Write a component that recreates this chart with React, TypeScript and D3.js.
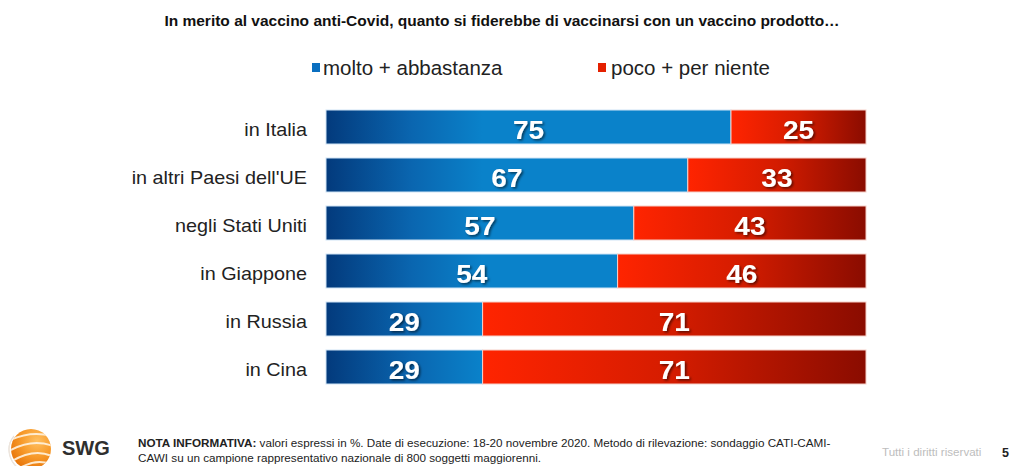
import React from "react";
import * as d3 from "d3";

const categories = ["in Italia", "in altri Paesi dell'UE", "negli Stati Uniti", "in Giappone", "in Russia", "in Cina"];
const positive = [75, 67, 57, 54, 29, 29];
const negative = [25, 33, 43, 46, 71, 71];
const seriesNames = ["molto + abbastanza", "poco + per niente"];
const titleText = "In merito al vaccino anti-Covid, quanto si fiderebbe di vaccinarsi con un vaccino prodotto…";

const W = 1024;
const H = 474;
const FONT = "'Liberation Sans', Arial, Helvetica, sans-serif";
const SX = 1.1;

export default function App() {
  const x = d3.scaleLinear().domain([0, 100]).range([326, 866]);
  const y = d3
    .scaleBand<string>()
    .domain(categories)
    .range([103, 391])
    .paddingInner(14 / 48)
    .paddingOuter(7 / 48);
  const bw = y.bandwidth();

  const valueLabel = (cx: number, cy: number, v: number) => (
    <text
      transform={`translate(${cx},${cy + 11.5}) scale(${SX},1)`}
      textAnchor="middle"
      fontSize={25.5}
      fontWeight="bold"
      fill="#fff"
      filter="url(#shadow)"
    >
      {v}
    </text>
  );

  return (
    <div style={{ margin: -8, width: W, height: H, overflow: "hidden", background: "#fff" }}>
      <svg width={W} height={H} style={{ display: "block" }} fontFamily={FONT}>
        <defs>
          <linearGradient id="blueGrad" gradientUnits="userSpaceOnUse" x1={x(0)} x2={x(29)} y1="0" y2="0">
            <stop offset="0" stopColor="#033a7c" />
            <stop offset="0.55" stopColor="#0a66b0" />
            <stop offset="1" stopColor="#0a82ca" />
          </linearGradient>
          <linearGradient id="redGrad" x1="0" x2="1" y1="0" y2="0">
            <stop offset="0" stopColor="#ff2400" />
            <stop offset="0.5" stopColor="#d41c00" />
            <stop offset="1" stopColor="#8a0c00" />
          </linearGradient>
          <filter id="shadow" x="-20%" y="-20%" width="140%" height="150%">
            <feDropShadow dx="1.5" dy="1.5" stdDeviation="0.8" floodColor="#000" floodOpacity="0.55" />
          </filter>
          <radialGradient id="orangeGrad" cx="0.65" cy="0.3" r="0.8">
            <stop offset="0" stopColor="#ffc060" />
            <stop offset="0.5" stopColor="#f79a2a" />
            <stop offset="1" stopColor="#e56f05" />
          </radialGradient>
          <clipPath id="logoClip">
            <circle cx={31} cy={449} r={20} />
          </clipPath>
        </defs>

        {/* title */}
        <text x={502} y={25.5} textAnchor="middle" fontSize={15.5} fontWeight="bold" fill="#111">
          {titleText}
        </text>

        {/* legend */}
        <rect x={312} y={63} width={8} height={9} fill="#0a6fc0" />
        <text x={323} y={75} fontSize={20.5} fill="#222">{seriesNames[0]}</text>
        <rect x={598} y={63} width={8} height={9} fill="#e42000" />
        <text x={611} y={75} fontSize={20.5} fill="#222">{seriesNames[1]}</text>

        {/* bars */}
        {categories.map((c, i) => {
          const y0 = y(c) as number;
          const cy = y0 + bw / 2;
          const xp = x(positive[i]);
          const xe = x(positive[i] + negative[i]);
          return (
            <g key={c}>
              <text
                transform={`translate(307,${cy + 8.5}) scale(${SX},1)`}
                textAnchor="end"
                fontSize={18}
                fill="#222"
              >
                {c}
              </text>
              <rect x={x(0)} y={y0} width={xp - x(0)} height={bw} fill="url(#blueGrad)" stroke="#cfe4f5" strokeWidth={1} />
              <rect x={xp} y={y0} width={xe - xp} height={bw} fill="url(#redGrad)" stroke="#f5d0c8" strokeWidth={1} />
              {valueLabel((x(0) + xp) / 2, cy, positive[i])}
              {valueLabel((xp + xe) / 2, cy, negative[i])}
            </g>
          );
        })}

        {/* logo */}
        <path d="M 14 436 A 22 22 0 0 0 22 470" fill="none" stroke="#e8e0d8" strokeWidth={1.2} />
        <path d="M 10 442 A 24 24 0 0 0 16 466" fill="none" stroke="#eee6de" strokeWidth={1} />
        <circle cx={31} cy={449} r={20} fill="url(#orangeGrad)" />
        <g clipPath="url(#logoClip)" fill="none" stroke="#fff3e0" strokeWidth={2} opacity={0.9}>
          <path d="M 8 441 Q 30 430 52 436" />
          <path d="M 9 451 Q 32 438 53 446" />
          <path d="M 12 461 Q 34 448 52 456" />
          <path d="M 18 469 Q 36 458 50 464" />
        </g>
        <text x={62} y={455} fontSize={20} fontWeight="bold" fill="#2f2f2f">SWG</text>

        {/* note */}
        <text x={138} y={447} fontSize={11.7} fill="#222">
          <tspan fontWeight="bold">NOTA INFORMATIVA:</tspan>
          <tspan> valori espressi in %. Date di esecuzione: 18-20 novembre 2020. Metodo di rilevazione: sondaggio CATI-CAMI-</tspan>
        </text>
        <text x={138} y={461.5} fontSize={11.7} fill="#222">
          CAWI su un campione rappresentativo nazionale di 800 soggetti maggiorenni.
        </text>
        <text x={882} y={456} fontSize={11.6} fill="#bdbdbd">Tutti i diritti riservati</text>
        <text x={1002} y={457} fontSize={12.5} fontWeight="bold" fill="#222">5</text>
      </svg>
    </div>
  );
}
